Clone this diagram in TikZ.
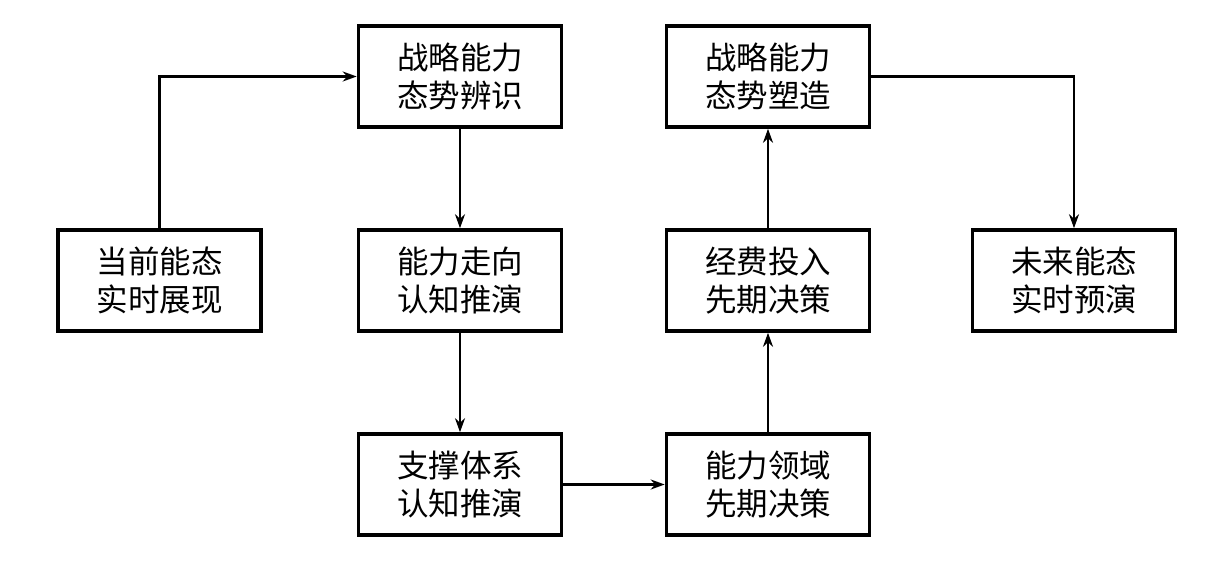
\documentclass[tikz,border=0pt]{standalone}
\usepackage{fontspec}
\newfontfamily\cjk{Noto Sans CJK SC}
\usetikzlibrary{arrows.meta}
\begin{document}
\begin{tikzpicture}[x=1pt,y=-1pt,
  box/.style={draw=black,line width=3.6pt,minimum width=203pt,minimum height=101pt,inner sep=0pt,align=center,
    font=\cjk\fontsize{31.5}{38}\selectfont},
  conn/.style={line width=2.2pt,-{Stealth[length=14pt,width=10pt,inset=4.5pt]}}]
\useasboundingbox (0,0) rectangle (1219,570);
\node[box] (a) at (159.5,280.5) {当前能态\\实时展现};
\node[box] (b) at (460,76.5) {战略能力\\态势辨识};
\node[box] (c) at (460,280.5) {能力走向\\认知推演};
\node[box] (d) at (460,484.5) {支撑体系\\认知推演};
\node[box] (e) at (768,484.5) {能力领域\\先期决策};
\node[box] (f) at (768,280.5) {经费投入\\先期决策};
\node[box] (g) at (768,76.5) {战略能力\\态势塑造};
\node[box] (h) at (1074,280.5) {未来能态\\实时预演};
\draw[conn] (a.north) |- (b.west);
\draw[conn] (b) -- (c);
\draw[conn] (c) -- (d);
\draw[conn] (d) -- (e);
\draw[conn] (e) -- (f);
\draw[conn] (f) -- (g);
\draw[conn] (g.east) -| (h.north);
\end{tikzpicture}
\end{document}
